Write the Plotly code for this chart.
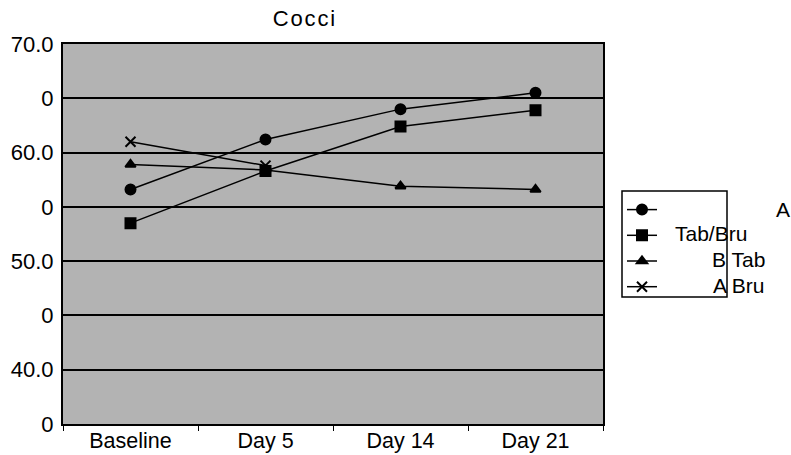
import plotly.graph_objects as go

categories = ["Baseline", "Day 5", "Day 14", "Day 21"]
series_names = ["A", "Tab/Bru", "B Tab", "A Bru"]
vals_a = [56.6, 61.2, 64.0, 65.5]
vals_tabbru = [53.5, 58.3, 62.4, 63.9]
vals_btab = [58.9, 58.4, 56.9, 56.6]
vals_abru = [61.0, 58.8, None, None]
ytick_vals = [35, 40, 45, 50, 55, 60, 65, 70]
ytick_text = ["0", "40.0", "0", "50.0", "0", "60.0", "0", "70.0"]

symbols = ["circle", "square", "triangle-up", "x-thin"]
sizes = [10, 10, 9, 10]
all_vals = [vals_a, vals_tabbru, vals_btab, vals_abru]

FONT = "Liberation Sans, Arial, sans-serif"
fig = go.Figure()
for i, (vals, nm, sym, sz) in enumerate(zip(all_vals, series_names, symbols, sizes)):
    fig.add_trace(go.Scatter(
        x=categories, y=vals, name=nm, mode="lines+markers",
        line=dict(color="black", width=1.5),
        marker=dict(symbol=sym, size=sz, color="black",
                    line=dict(color="black", width=2)),
        connectgaps=False, legendgroup="g%d" % i,
    ))

L, R, T, B = 63, 188, 44, 31
PW, PH = 791 - L - R, 455 - T - B

def px_x(px):
    return (px - L) / PW

def px_y(py):
    return (455 - B - py) / PH

# legend text positions (left x, center y) in pixels
legend_text_pos = [(774, 209), (673, 233), (710, 259), (711, 285)]

annotations = []
for nm, (lx, ly) in zip(series_names, legend_text_pos):
    annotations.append(dict(text=nm, xref="paper", yref="paper", x=px_x(lx), y=px_y(ly),
                            xanchor="left", yanchor="middle", showarrow=False,
                            font=dict(size=21, family=FONT, color="black")))

fig.update_layout(
    width=791, height=455,
    margin=dict(l=L, r=R, t=T, b=B, autoexpand=False),
    paper_bgcolor="white", plot_bgcolor="#b3b3b3",
    font=dict(family=FONT, size=21, color="black"),
    title=dict(text="\u200a".join("Cocci"), x=px_x(304), xref="paper",
               xanchor="center", y=1 - 18 / 455, yanchor="middle",
               font=dict(size=22, family=FONT, color="black")),
    showlegend=True,
    legend=dict(x=px_x(622), xanchor="left", y=px_y(194), yanchor="top",
                bgcolor="rgba(0,0,0,0)", borderwidth=0, tracegroupgap=4.5,
                itemwidth=30,
                font=dict(size=14, family=FONT, color="rgba(0,0,0,0)")),
    xaxis=dict(type="category", showgrid=False, ticks="outside", tickson="boundaries",
               ticklen=5, tickcolor="black", showline=True, linecolor="black", linewidth=2,
               mirror=True, tickfont=dict(size=21.5), range=[-0.5, 3.5], zeroline=False,
               automargin=False, ticklabelstandoff=-4),
    yaxis=dict(range=[35, 70], tickvals=ytick_vals, ticktext=ytick_text,
               showgrid=True, gridcolor="black", gridwidth=1.5, ticks="",
               showline=True, linecolor="black", linewidth=2, mirror=True,
               tickfont=dict(size=22), zeroline=False, ticklabelstandoff=3,
               automargin=False),
    annotations=annotations,
    shapes=[dict(type="rect", xref="paper", yref="paper",
                 x0=px_x(622), x1=px_x(727), y0=px_y(297), y1=px_y(191),
                 line=dict(color="black", width=1.5), fillcolor="rgba(0,0,0,0)")],
)

fig.write_html("out.html", config={"displayModeBar": False},
               post_script="document.body.style.margin='0';")
